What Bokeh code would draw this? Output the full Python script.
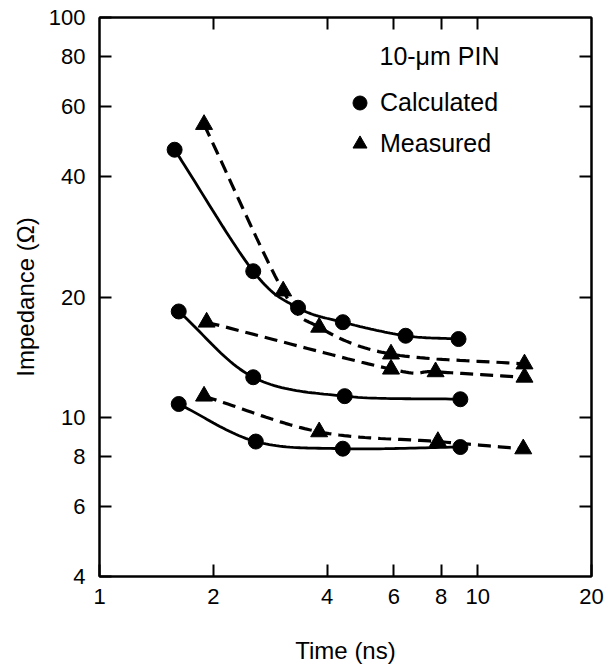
import numpy as np
from bokeh.plotting import figure
from bokeh.models import (FixedTicker, LogAxis, PrintfTickFormatter, Legend,
                          LegendItem, Label)
from bokeh.embed import file_html
from bokeh.resources import INLINE

# ---- data ----
calc_top_t = [1.58, 2.55, 3.35, 4.4, 6.45, 8.9]
calc_top_z = [46.7, 23.2, 18.8, 17.3, 16.0, 15.7]
meas_top_t = [1.89, 3.06, 3.81, 5.9, 13.3]
meas_top_z = [54.0, 20.7, 16.8, 14.4, 13.6]

calc_mid_t = [1.62, 2.55, 4.45, 9.0]
calc_mid_z = [18.4, 12.6, 11.3, 11.1]
meas_mid_t = [1.92, 5.9, 7.74, 13.3]
meas_mid_z = [17.3, 13.2, 13.0, 12.6]

calc_bot_t = [1.62, 2.59, 4.4, 9.0]
calc_bot_z = [10.8, 8.7, 8.35, 8.43]
meas_bot_t = [1.89, 3.81, 7.85, 13.2]
meas_bot_z = [11.3, 9.2, 8.7, 8.34]

x_ticks = [1, 2, 4, 6, 8, 10, 20]
y_ticks = [4, 6, 8, 10, 20, 40, 60, 80, 100]
top_ticks = [2, 4, 6, 8, 10]
right_ticks = [6, 8, 10, 20, 40, 60, 80]

FONT = "Liberation Sans"


def smooth(xs, ys, n=24):
    """Catmull-Rom curve through the points, drawn in log-log space."""
    P = np.column_stack([np.log10(xs), np.log10(ys)])
    P = np.vstack([2 * P[0] - P[1], P, 2 * P[-1] - P[-2]])
    out = []
    for i in range(1, len(P) - 2):
        p0, p1, p2, p3 = P[i - 1], P[i], P[i + 1], P[i + 2]
        for t in np.linspace(0, 1, n, endpoint=False):
            t2, t3 = t * t, t * t * t
            pt = 0.5 * ((2 * p1) + (-p0 + p2) * t +
                        (2 * p0 - 5 * p1 + 4 * p2 - p3) * t2 +
                        (-p0 + 3 * p1 - 3 * p2 + p3) * t3)
            out.append(pt)
    out.append(P[-2])
    out = np.array(out)
    return 10 ** out[:, 0], 10 ** out[:, 1]


p = figure(width=604, height=666, x_axis_type="log", y_axis_type="log",
           x_range=(1, 20), y_range=(4, 100), output_backend="svg",
           toolbar_location=None, min_border_left=99, min_border_right=13,
           min_border_top=17, min_border_bottom=89)
p.grid.visible = False
p.outline_line_color = "black"
p.outline_line_width = 2
p.background_fill_color = "white"
p.border_fill_color = "white"

for ax in (p.xaxis[0], p.yaxis[0]):
    ax.major_tick_out = 0
    ax.major_tick_in = 12
    ax.minor_tick_in = 0
    ax.minor_tick_out = 0
    ax.axis_line_width = 2
    ax.major_tick_line_width = 2
    ax.major_label_text_font = FONT
    ax.major_label_text_font_size = "22px"
    ax.major_label_text_color = "black"
    ax.axis_label_text_font = FONT
    ax.axis_label_text_font_size = "24px"
    ax.axis_label_text_font_style = "normal"
    ax.axis_label_text_color = "black"
    ax.formatter = PrintfTickFormatter(format="%d")

p.xaxis.ticker = FixedTicker(ticks=x_ticks)
p.yaxis.ticker = FixedTicker(ticks=y_ticks)
p.xaxis.axis_label = "Time (ns)"
p.yaxis.axis_label = "Impedance (Ω)"
p.xaxis.major_label_standoff = 12
p.yaxis.major_label_standoff = 14
p.xaxis.axis_label_standoff = 30
p.yaxis.axis_label_standoff = 7

# mirrored inward ticks on top and right (no labels)
top_ax = LogAxis(ticker=FixedTicker(ticks=top_ticks))
right_ax = LogAxis(ticker=FixedTicker(ticks=right_ticks))
for ax in (top_ax, right_ax):
    ax.major_tick_out = 0
    ax.major_tick_in = 12
    ax.minor_tick_in = 0
    ax.minor_tick_out = 0
    ax.major_tick_line_width = 2
    ax.axis_line_width = 2
    ax.major_label_text_font_size = "1px"
    ax.major_label_text_color = None
    ax.major_label_standoff = 0
p.add_layout(top_ax, "above")
p.add_layout(right_ax, "right")

groups = [
    (calc_top_t, calc_top_z, meas_top_t, meas_top_z),
    (calc_mid_t, calc_mid_z, meas_mid_t, meas_mid_z),
    (calc_bot_t, calc_bot_z, meas_bot_t, meas_bot_z),
]

calc_renderers = []
meas_renderers = []
for ct, cz, mt, mz in groups:
    sx, sy = smooth(ct, cz)
    p.line(sx, sy, line_color="black", line_width=2.8)
    sx, sy = smooth(mt, mz)
    p.line(sx, sy, line_color="black", line_width=3.2, line_dash="13 7")
    calc_renderers.append(p.scatter(ct, cz, marker="circle", size=15,
                                    fill_color="black", line_color="black"))
    meas_renderers.append(p.scatter(mt, mz, marker="triangle", size=17,
                                    fill_color="black", line_color="black"))

legend = Legend(items=[LegendItem(label="Calculated", renderers=[calc_renderers[0]]),
                       LegendItem(label="Measured", renderers=[meas_renderers[0]])],
                location=(243, 415), background_fill_alpha=0, border_line_color=None,
                padding=0, margin=0, spacing=6, glyph_width=35, glyph_height=35,
                label_height=35, label_standoff=3, label_text_font=FONT,
                label_text_font_size="25px", label_text_color="black")
p.add_layout(legend, "center")

p.add_layout(Label(x=5.5, y=80, text="10-μm PIN", text_font=FONT,
                   text_font_size="25px", text_baseline="middle",
                   text_color="black"))

open("out.html", "w").write(file_html(p, INLINE))
